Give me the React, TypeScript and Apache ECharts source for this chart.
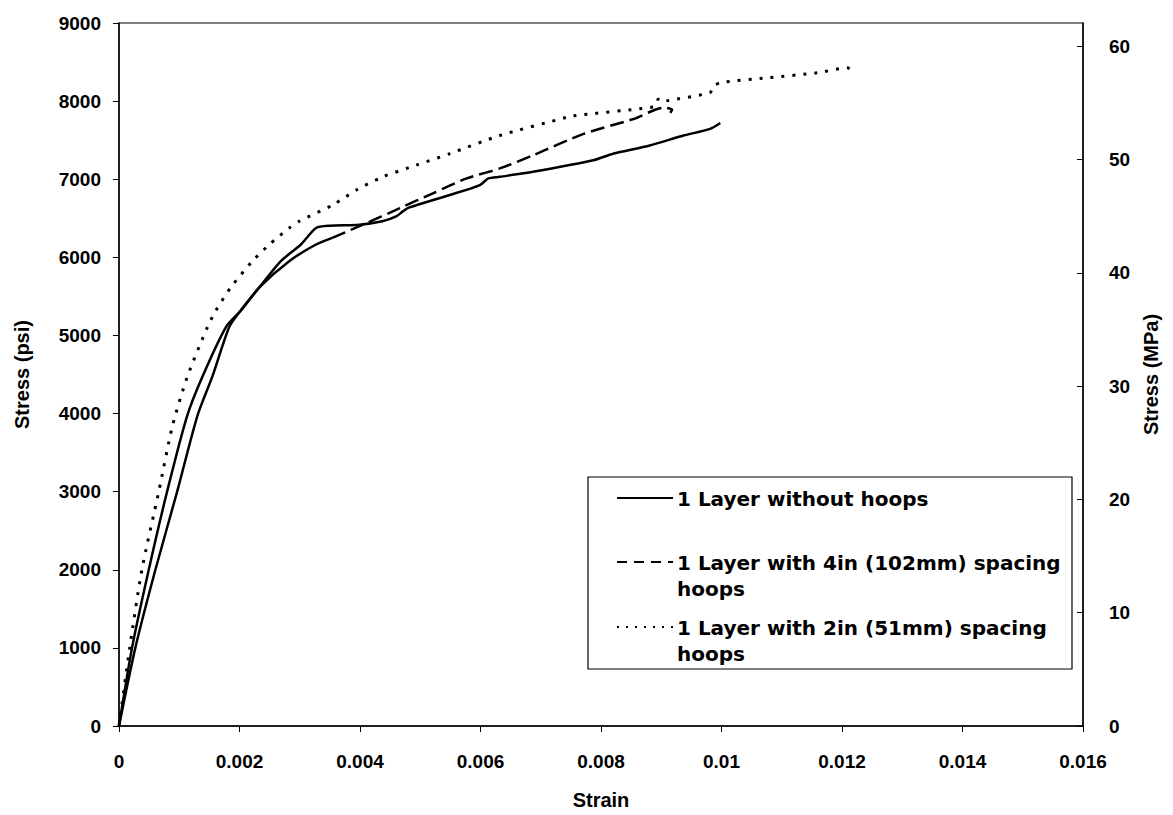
import React, { useEffect, useRef } from "react";
import * as echarts from "echarts";

// strain, stress (psi)
const noHoopsStrain = [0, 0.000271, 0.000604, 0.000965, 0.0013, 0.00155, 0.00183, 0.00202, 0.00233, 0.00269, 0.00302, 0.00327, 0.0035, 0.00399, 0.00437, 0.0046, 0.00471, 0.00482, 0.00549, 0.00599, 0.00613, 0.00632, 0.00687, 0.00787, 0.0082, 0.00881, 0.00937, 0.00981, 0.00998];
const noHoopsStress = [0, 1000, 2000, 3000, 3968, 4475, 5108, 5320, 5616, 5954, 6164, 6376, 6405, 6418, 6461, 6524, 6588, 6639, 6798, 6925, 7010, 7031, 7095, 7242, 7327, 7432, 7559, 7644, 7720];

const hoops4Strain = [0, 0.000216, 0.000494, 0.000798, 0.00113, 0.001386, 0.001775, 0.002024, 0.00233, 0.00283, 0.00327, 0.00354, 0.00405, 0.00466, 0.00521, 0.00577, 0.00632, 0.00687, 0.00771, 0.00854, 0.00904, 0.00918, 0.00915];
const hoops4Stress = [0, 1000, 2000, 3000, 3968, 4475, 5108, 5320, 5616, 5954, 6164, 6250, 6418, 6629, 6820, 7010, 7138, 7306, 7580, 7771, 7915, 7890, 7850];
// the dashed pattern of this curve only becomes visible past this point in the original
const hoops4DashStart = 11;

const hoops2Strain = [0, 0.000178, 0.00038, 0.00066, 0.000887, 0.001136, 0.001469, 0.001608, 0.001858, 0.002217, 0.002495, 0.002827, 0.00299, 0.00355, 0.00394, 0.00438, 0.00493, 0.00549, 0.00632, 0.00743, 0.00754, 0.00882, 0.00891, 0.00895, 0.00901, 0.00909, 0.00981, 0.00987, 0.00998, 0.01076, 0.01159, 0.01209, 0.01217];
const hoops2Stress = [0, 1000, 2000, 3000, 3841, 4475, 5108, 5320, 5616, 5954, 6164, 6376, 6461, 6671, 6862, 7031, 7179, 7327, 7559, 7792, 7812, 7919, 7948, 8024, 7986, 8003, 8109, 8192, 8236, 8299, 8362, 8426, 8383];

const seriesNames = [
  "1 Layer without hoops",
  "1 Layer with 4in (102mm) spacing\nhoops",
  "1 Layer with 2in (51mm) spacing\nhoops",
];

const xTicks = ["0", "0.002", "0.004", "0.006", "0.008", "0.01", "0.012", "0.014", "0.016"];
const PSI_PER_MPA = 145.038;

const FONT = "'Liberation Sans', Arial, sans-serif";
const LEGEND_FONT = "'DejaVu Sans', 'Liberation Sans', Arial, sans-serif";

function pairs(xs: number[], ys: number[]) {
  return xs.map((x, i) => [x, ys[i]]);
}

export default function App() {
  const ref = useRef<HTMLDivElement>(null);
  useEffect(() => {
    if (!ref.current) return;
    const chart = echarts.init(ref.current, null, { renderer: "svg" });
    const labelStyle = { color: "#000", fontFamily: FONT, fontWeight: "bold" as const, fontSize: 19 };
    const titleStyle = { ...labelStyle, fontSize: 20 };
    const h4 = pairs(hoops4Strain, hoops4Stress);
    const seriesDefs = [
      { name: seriesNames[0], data: pairs(noHoopsStrain, noHoopsStress), type: "solid" as any, width: 2.5 },
      { name: seriesNames[1], data: h4.slice(0, hoops4DashStart + 1), type: "solid" as any, width: 2.5 },
      { name: seriesNames[1], data: h4.slice(hoops4DashStart), type: [14, 6] as any, width: 2.5 },
      { name: seriesNames[2], data: pairs(hoops2Strain, hoops2Stress), type: [3, 8] as any, width: 3 },
    ];
    const legendX = 617;
    const legendRows = [498, 562, 627];
    chart.setOption({
      animation: false,
      backgroundColor: "#fff",
      grid: {
        left: 119,
        right: 90,
        top: 23,
        bottom: 82,
        show: true,
        borderColor: "#000",
        borderWidth: 1,
      },
      xAxis: {
        type: "value",
        min: 0,
        max: 0.016,
        interval: 0.002,
        name: "Strain",
        nameLocation: "middle",
        nameGap: 64,
        nameTextStyle: titleStyle,
        axisLine: { lineStyle: { color: "#000", width: 1.5 } },
        axisTick: { show: true, length: 6, lineStyle: { color: "#000" } },
        axisLabel: {
          ...labelStyle,
          margin: 26,
          formatter: (v: number) => xTicks[Math.round(v / 0.002)] ?? String(v),
        },
        splitLine: { show: false },
      },
      yAxis: [
        {
          type: "value",
          min: 0,
          max: 9000,
          interval: 1000,
          name: "Stress (psi)",
          nameLocation: "middle",
          nameGap: 87,
          nameTextStyle: titleStyle,
          axisLine: { show: true, lineStyle: { color: "#000", width: 1.5 } },
          axisTick: { show: true, length: 6, lineStyle: { color: "#000" } },
          axisLabel: { ...labelStyle, margin: 18, formatter: (v: number) => String(v) },
          splitLine: { show: false },
        },
        {
          type: "value",
          min: 0,
          max: 9000 / PSI_PER_MPA,
          interval: 10,
          position: "right",
          name: "Stress (MPa)",
          nameLocation: "middle",
          nameGap: 58,
          nameRotate: 90,
          nameTextStyle: titleStyle,
          axisLine: { show: true, lineStyle: { color: "#000", width: 1.5 } },
          axisTick: { show: true, inside: true, length: 6, lineStyle: { color: "#000" } },
          axisLabel: {
            ...labelStyle,
            margin: 26,
            showMaxLabel: false,
            formatter: (v: number) => (Math.abs(v - Math.round(v)) < 1e-6 ? String(Math.round(v)) : ""),
          },
          splitLine: { show: false },
        },
      ],
      series: seriesDefs.map((s) => ({
        type: "line",
        name: s.name,
        data: s.data,
        showSymbol: false,
        smooth: 0.25,
        lineStyle: { color: "#000", type: s.type, width: s.width },
        yAxisIndex: 0,
        silent: true,
      })),
      graphic: [
        {
          type: "rect",
          shape: { x: 588, y: 477, width: 484, height: 192 },
          style: { fill: "#fff", stroke: "#000", lineWidth: 1.2 },
          z: 10,
        },
        ...legendRows.flatMap((y, i) => [
          {
            type: "line",
            shape: { x1: legendX, y1: y, x2: legendX + 56, y2: y },
            style: {
              stroke: "#000",
              lineWidth: 2,
              lineDash: i === 0 ? null : i === 1 ? [10, 7] : [2, 7],
            },
            z: 11,
          },
          {
            type: "text",
            x: legendX + 60,
            y: y - 12,
            style: {
              text: seriesNames[i],
              fill: "#000",
              font: `bold 20px ${LEGEND_FONT}`,
              lineHeight: 26,
              textVerticalAlign: "top",
            },
            z: 11,
          },
        ]),
      ],
    });
    return () => chart.dispose();
  }, []);
  return (
    <div
      ref={ref}
      style={{ position: "fixed", left: 0, top: 0, width: 1173, height: 815, background: "#fff" }}
    />
  );
}
